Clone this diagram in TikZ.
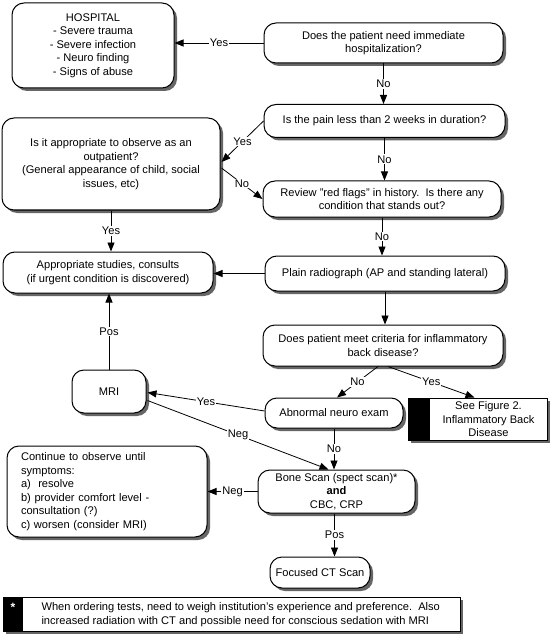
\documentclass[tikz,border=0pt]{standalone}
\usepackage{fontspec}
\setmainfont{Liberation Sans}
\usetikzlibrary{arrows.meta,shadows,calc}
\begin{document}
\begin{tikzpicture}[x=1pt,y=-1pt,
  every node/.style={font=\fontsize{11.1}{13.5}\selectfont},
  shad/.style={drop shadow={shadow xshift=3pt,shadow yshift=-3pt,fill=black!60,opacity=1}},
  box/.style={draw=black,line width=1pt,fill=white,rounded corners=12pt,align=center,inner sep=2pt,shad},
  sqbox/.style={draw=black,line width=1pt,fill=white,inner sep=0pt,shad},
  arr/.style={-{Triangle[length=9pt,width=7pt]},line width=0.8pt},
  lab/.style={fill=white,inner sep=1pt}]
\useasboundingbox[fill=white] (0,0) rectangle (550,636);

% boxes
\node[box,minimum width=162pt,minimum height=85pt] (hosp) at (93,45.5)
  {HOSPITAL\\- Severe trauma\\- Severe infection\\- Neuro finding\\- Signs of abuse};
\node[box,minimum width=239pt,minimum height=40pt] (q1) at (383.5,43)
  {Does the patient need immediate\\hospitalization?};
\node[box,minimum width=241pt,minimum height=33pt] (q2) at (384.5,121)
  {Is the pain less than 2 weeks in duration?};
\node[box,minimum width=218pt,minimum height=92pt] (obs) at (111,164)
  {Is it appropriate to observe as an\\outpatient?\\(General appearance of child, social\\issues, etc)};
\node[box,minimum width=238pt,minimum height=36pt] (rev) at (382,199)
  {Review "red flags" in history.\ \ Is there any\\condition that stands out?};
\node[box,minimum width=210pt,minimum height=41pt] (appr) at (108,272.5)
  {Appropriate studies, consults\\(if urgent condition is discovered)};
\node[box,minimum width=240pt,minimum height=35pt] (plain) at (385,273.5)
  {Plain radiograph (AP and standing lateral)};
\node[box,minimum width=240pt,minimum height=41pt] (q3) at (383,345.5)
  {Does patient meet criteria for inflammatory\\back disease?};
\node[box,minimum width=138pt,minimum height=30pt] (neuro) at (334,413)
  {Abnormal neuro exam};
\node[box,minimum width=74pt,minimum height=43pt] (mri) at (109,391.5) {MRI};
\node[box,minimum width=157pt,minimum height=43pt] (bone) at (336.5,491.5)
  {Bone Scan (spect scan)*\\\textbf{and}\\CBC, CRP};
\node[box,minimum width=200pt,minimum height=91pt,text width=172pt,align=left,inner xsep=14pt] (cont) at (107,491.5)
  {Continue to observe until\\symptoms:\\a)\ \ resolve\\b) provider comfort level -\\consultation (?)\\c) worsen (consider MRI)};
\node[box,minimum width=100pt,minimum height=31pt] (ct) at (320,572.5) {Focused CT Scan};

% figure 2 box
\node[sqbox,minimum width=139pt,minimum height=42pt] (fig) at (477.5,419) {};
\fill[black] (fig.north west) rectangle ($(fig.south west)+(22,0)$);
\node[align=center] (figtxt) at (488.5,419.5) {See Figure 2.\\Inflammatory Back\\Disease};

% footnote box
\node[sqbox,minimum width=457pt,minimum height=34pt] (foot) at (231.5,614) {};
\fill[black] (foot.north west) rectangle ($(foot.south west)+(20,0)$);
\node[text=white,font=\bfseries\fontsize{12}{12}\selectfont] (star) at (13,607) {*};
\node[align=left,anchor=west] (foottxt) at (38,614.5)
  {When ordering tests, need to weigh institution's experience and preference.\ \ Also\\increased radiation with CT and possible need for conscious sedation with MRI};

% helper coordinate
\coordinate (bs) at ($(bone.south)+(-2,0)$);

% connectors
\draw[arr] (q1.west) -- node[lab]{Yes} (q1.west -| hosp.east);
\draw[arr] (q1.south) -- node[lab]{No} (q1.south |- q2.north);
\draw[arr] (q2.west) -- node[lab]{Yes} ($(obs.east)+(1,-2)$);
\draw[arr] ($(obs.east)+(1,4)$) -- node[lab]{No} (rev.west);
\draw[arr] (q2.south) -- node[lab]{No} (q2.south |- rev.north);
\draw[arr] (obs.south) -- node[lab]{Yes} (obs.south |- appr.north);
\draw[arr] (rev.south) -- node[lab]{No} (rev.south |- plain.north);
\draw[arr] (plain.west) -- (plain.west -| appr.east);
\draw[arr] (plain.south) -- (plain.south |- q3.north);
\draw[arr] ($(q3.south)+(-5,0)$) -- node[lab]{No} ($(neuro.north)+(3,0)$);
\draw[arr] ($(q3.south)+(5,0)$) -- node[lab]{Yes} ($(fig.north west)+(67,0)$);
\draw[arr] (mri.north) -- node[lab]{Pos} (mri.north |- appr.south);
\draw[arr] ($(neuro.west)+(0,-2)$) -- node[lab]{Yes} ($(mri.east)+(1,1)$);
\draw[arr] ($(mri.east)+(1,9)$) -- node[lab]{Neg} ($(bone.north)+(-8,0)$);
\draw[arr] (neuro.south) -- node[lab]{No} (neuro.south |- bone.north);
\draw[arr] (bone.west) -- node[lab]{Neg} (bone.west -| cont.east);
\draw[arr] (bs) -- node[lab]{Pos} (bs |- ct.north);
\end{tikzpicture}
\end{document}
